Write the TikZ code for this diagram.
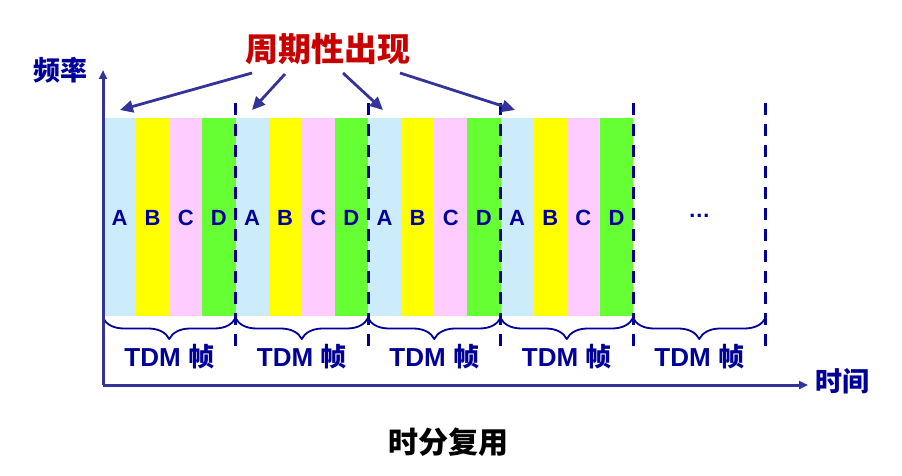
\documentclass[tikz,border=0pt]{standalone}
\usepackage{fontspec}
\setmainfont{Liberation Sans}
\newfontfamily\cjk{Noto Sans CJK SC}
\usetikzlibrary{arrows.meta}
\usetikzlibrary{positioning}
\usetikzlibrary{decorations.pathreplacing}
\definecolor{SlotA}{RGB}{204,236,252}
\definecolor{SlotB}{RGB}{255,255,0}
\definecolor{SlotC}{RGB}{255,204,255}
\definecolor{SlotD}{RGB}{102,255,51}
\definecolor{TextBlue}{RGB}{0,0,153}
\definecolor{AxisBlue}{RGB}{51,51,153}
\definecolor{TitleRed}{RGB}{200,0,0}
\tikzset{
	axis/.style={AxisBlue, line width=3pt, -{Triangle[length=9pt,width=8pt]}},
	pointer/.style={AxisBlue, line width=2.8pt, -{Triangle[length=13pt,width=12pt]}},
	framesep/.style={TextBlue, line width=3pt, dash pattern=on 12pt off 9pt},
	framebrace/.style={TextBlue, line width=1.8pt, decorate,
		decoration={brace, mirror, amplitude=21pt, aspect=0.5}},
	slotlbl/.style={TextBlue, font=\bfseries\fontsize{22}{24}\selectfont},
	framelbl/.style={TextBlue, font=\bfseries\fontsize{26}{28}\selectfont},
	axislbl/.style={TextBlue, font=\cjk\bfseries\fontsize{27}{29}\selectfont},
}

\begin{document}
\begin{tikzpicture}[
		x=1pt, y=-1pt,
		line cap=butt, line join=round,
		]
		\useasboundingbox (0,0) rectangle (902,476);
		
		\def\xo{103}  % left edge of the first frame
		\def\fw{132.5} % frame width
		\def\sw{33.125} % slot width
		
		% --- time slots A B C D in four frames ---
		\foreach \f in {0,...,3} {
			\foreach \s/\col/\nm in {0/SlotA/A,1/SlotB/B,2/SlotC/C,3/SlotD/D} {
				\fill[\col] ({\xo+\f*\fw+\s*\sw},118) rectangle ++(\sw,198);
				\node[slotlbl] (\nm\f) at ({\xo+\f*\fw+(\s+0.5)*\sw},218) {\nm};
			}
		}
		\node[slotlbl] (more) at ({\xo+4.5*\fw},216) {\textbf{\char"2026}};
		
		% --- frame boundaries (dashed) ---
		\foreach \f in {1,...,5}
		\draw[framesep] ({\xo+\f*\fw},103) -- ({\xo+\f*\fw},348);
		
		% --- braces and frame labels ---
		\foreach \f in {0,...,4} {
			\draw[framebrace] ({\xo+\f*\fw},318) -- ({\xo+(\f+1)*\fw},318);
			\node[framelbl] (tdm\f) at ({\xo+(\f+0.5)*\fw},357) {TDM {\cjk 帧}};
		}
		
		% --- axes ---
		\coordinate (origin) at (103,385);
		\coordinate (ftip) at (103,70);
		\coordinate (ttip) at (808,385);
		\draw[axis] (origin) -- (ftip);
		\draw[axis] (origin) -- (ttip);
		\node[axislbl] (freq) at (60,70) {频率};
		\node[axislbl] (time) at (842,381) {时间};
		
		% --- periodic marker ---
		\node[TitleRed, font=\cjk\bfseries\fontsize{33}{35}\selectfont] (period) at (328,49) {周期性出现};
		\coordinate (p1s) at (252,73);  \coordinate (p1e) at (120,110);
		\coordinate (p2s) at (285,74);  \coordinate (p2e) at (252,110);
		\coordinate (p3s) at (343,73);  \coordinate (p3e) at (383,110);
		\coordinate (p4s) at (400,73);  \coordinate (p4e) at (515,110);
		\draw[pointer] (p1s) -- (p1e);
		\draw[pointer] (p2s) -- (p2e);
		\draw[pointer] (p3s) -- (p3e);
		\draw[pointer] (p4s) -- (p4e);
		
		% caption
		\node[font=\cjk\bfseries\fontsize{30}{32}\selectfont] (caption) at (448,442) {时分复用};
		
	\end{tikzpicture}
\end{document}
